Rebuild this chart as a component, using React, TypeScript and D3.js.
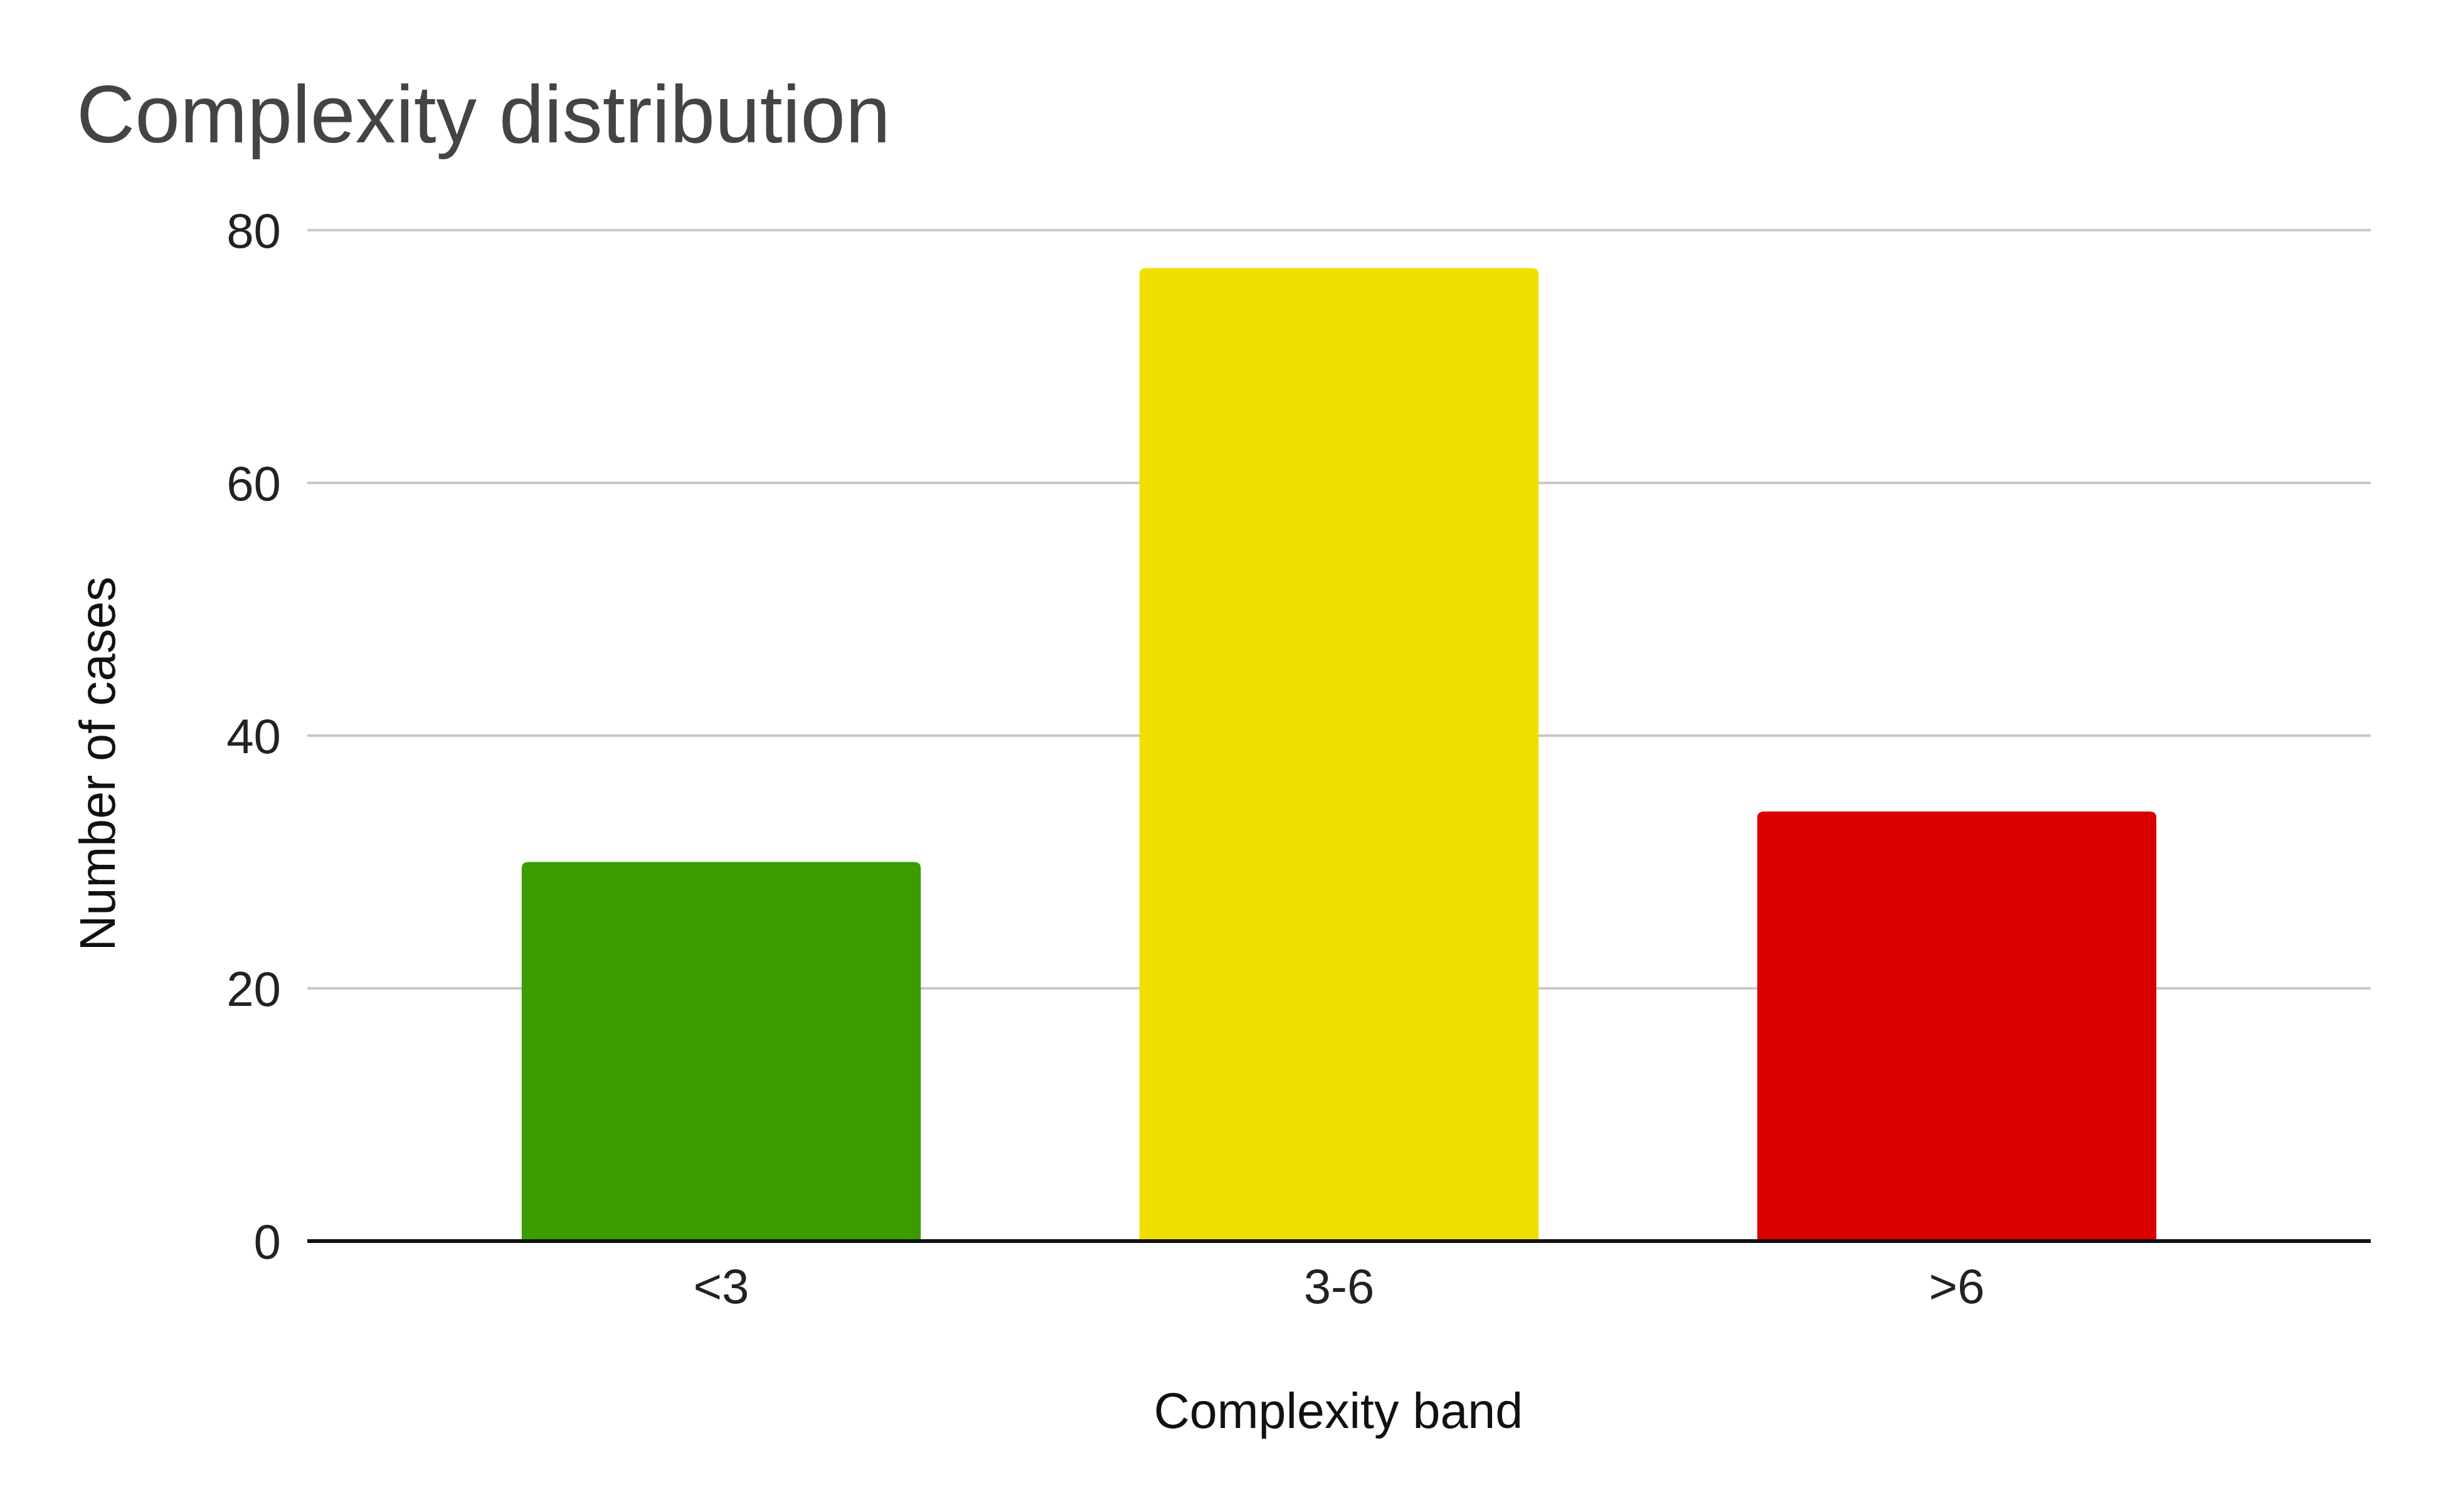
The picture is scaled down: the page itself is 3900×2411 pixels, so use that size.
import React, { useEffect, useRef } from "react";
import * as d3 from "d3";

const categories = ["<3", "3-6", ">6"];
const values = [30, 77, 34];
const barColors = ["#3b9c02", "#efe000", "#db0000"];
const yTicks = [0, 20, 40, 60, 80];
const title = "Complexity distribution";
const xTitle = "Complexity band";
const yTitle = "Number of cases";

const W = 3900;
const H = 2411;
const FONT = "'Liberation Sans', Arial, sans-serif";

export default function App() {
  const ref = useRef<SVGSVGElement | null>(null);

  useEffect(() => {
    document.body.style.margin = "0";
    const svg = d3.select(ref.current);
    svg.selectAll("*").remove();

    const left = 490, right = 3780, top = 367, bottom = 1979;
    const x = d3.scaleBand<string>().domain(categories).range([left, right]).paddingInner(0.354).paddingOuter(0.347);
    const y = d3.scaleLinear().domain([0, 80]).range([bottom, top]);

    svg.append("rect").attr("width", W).attr("height", H).attr("fill", "#ffffff");

    // title
    svg.append("text").attr("x", 122).attr("y", 227).attr("font-family", FONT).attr("font-size", 129)
      .attr("fill", "#444444").text(title);

    // gridlines
    svg.append("g").selectAll("line").data(yTicks.filter(t => t !== 0)).join("line")
      .attr("x1", left).attr("x2", right).attr("y1", d => y(d)).attr("y2", d => y(d))
      .attr("stroke", "#c8c8c8").attr("stroke-width", 4);

    // y tick labels
    svg.append("g").selectAll("text").data(yTicks).join("text")
      .attr("x", 448).attr("y", d => y(d) + 28).attr("text-anchor", "end")
      .attr("font-family", FONT).attr("font-size", 78).attr("fill", "#222222").text(d => String(d));

    // bars with rounded top corners
    const r = 10;
    svg.append("g").selectAll("path").data(values).join("path")
      .attr("d", (d, i) => {
        const x0 = x(categories[i])!;
        const w = x.bandwidth();
        const y0 = y(d);
        const yb = y(0);
        return `M${x0},${yb} L${x0},${y0 + r} Q${x0},${y0} ${x0 + r},${y0} L${x0 + w - r},${y0} Q${x0 + w},${y0} ${x0 + w},${y0 + r} L${x0 + w},${yb} Z`;
      })
      .attr("fill", (_, i) => barColors[i]);

    // baseline axis
    svg.append("line").attr("x1", left).attr("x2", right).attr("y1", y(0)).attr("y2", y(0))
      .attr("stroke", "#111111").attr("stroke-width", 6);

    // x tick labels
    svg.append("g").selectAll("text").data(categories).join("text")
      .attr("x", d => x(d)! + x.bandwidth() / 2).attr("y", 2078).attr("text-anchor", "middle")
      .attr("font-family", FONT).attr("font-size", 78).attr("fill", "#222222").text(d => d);

    // x axis title
    svg.append("text").attr("x", 2134).attr("y", 2277).attr("text-anchor", "middle")
      .attr("font-family", FONT).attr("font-size", 79).attr("fill", "#111111").text(xTitle);

    // y axis title
    svg.append("text").attr("transform", "translate(183,1218) rotate(-90)").attr("text-anchor", "middle")
      .attr("font-family", FONT).attr("font-size", 79).attr("fill", "#111111").text(yTitle);
  }, []);

  return <svg ref={ref} width={W} height={H} style={{ display: "block" }} />;
}
